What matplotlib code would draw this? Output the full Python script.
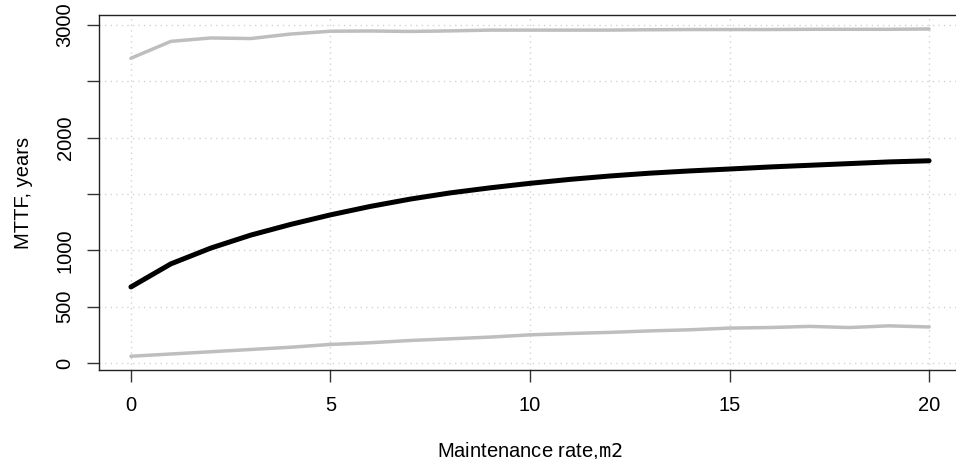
import matplotlib
matplotlib.use("Agg")
import matplotlib.pyplot as plt

# data
rate = list(range(0, 21))
mttf_mean = [675, 880, 1020, 1135, 1230, 1315, 1390, 1455, 1510, 1555, 1595,
             1630, 1660, 1685, 1705, 1722, 1740, 1755, 1770, 1785, 1795]
mttf_upper = [2705, 2855, 2885, 2880, 2920, 2945, 2947, 2943, 2948, 2955, 2955,
              2955, 2955, 2958, 2960, 2960, 2960, 2962, 2962, 2962, 2965]
mttf_lower = [60, 80, 100, 120, 140, 165, 180, 200, 215, 230, 250,
              262, 272, 285, 295, 310, 315, 325, 315, 330, 320]

x_ticks = [0, 5, 10, 15, 20]
y_ticks = [0, 500, 1000, 1500, 2000, 2500, 3000]
y_labels = ["0", "500", "1000", "", "2000", "", "3000"]

plt.rcParams["font.family"] = ["Liberation Sans", "DejaVu Sans"]
plt.rcParams["mathtext.fontset"] = "dejavusans"

W, H = 956, 459
fs = 14.5
fig = plt.figure(figsize=(W / 100, H / 100), dpi=100)
left, right, top, bottom = 99, 961, 15, 370
ax = fig.add_axes([left / W, 1 - bottom / H, (right - left) / W, (bottom - top) / H])

ax.plot(rate, mttf_upper, color="#bebebe", lw=2.5, solid_capstyle="round", zorder=3)
ax.plot(rate, mttf_lower, color="#bebebe", lw=2.5, solid_capstyle="round", zorder=3)
ax.plot(rate, mttf_mean, color="black", lw=3.6, solid_capstyle="round", zorder=4)

ax.set_xlim(-0.8, 20.8)
ax.set_ylim(-62, 3089)
ax.set_xticks(x_ticks)
ax.set_yticks(y_ticks)
ax.set_yticklabels(y_labels, rotation=90, va="center")
ax.grid(True, color="#d3d3d3", linestyle=(0, (1, 3)), lw=1)
ax.set_axisbelow(True)

for sp in ax.spines.values():
    sp.set_color("#222222")
    sp.set_linewidth(1)
ax.tick_params(axis="both", direction="out", length=8.5, width=1, color="#333333",
               labelsize=fs, pad=9)
ax.tick_params(axis="x", pad=10)

ax.set_xlabel("Maintenance rate,$\\mathtt{m2}$", fontsize=fs, labelpad=18)
ax.set_ylabel("MTTF, years", fontsize=fs, labelpad=16)

fig.savefig("out.png", dpi=100)
